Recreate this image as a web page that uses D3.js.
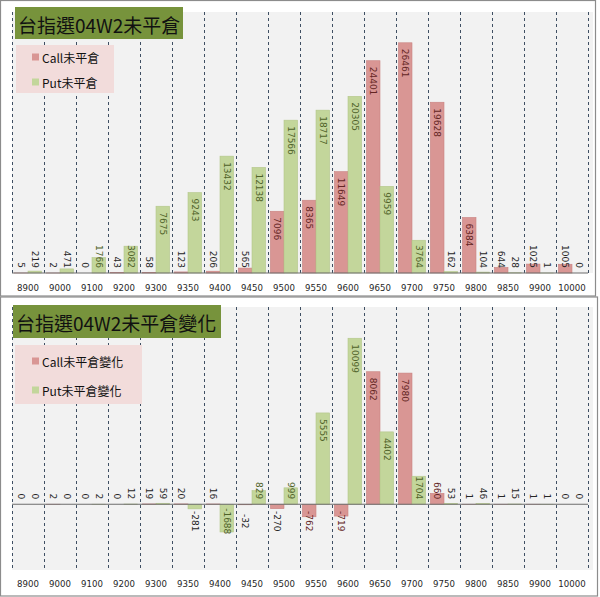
<!DOCTYPE html>
<html>
<head>
<meta charset="utf-8">
<script src="https://cdn.jsdelivr.net/npm/d3@7"></script>
<style>
html,body{margin:0;padding:0;background:#fff;}
svg{display:block;}
</style>
</head>
<body>
<svg id="chart" width="600" height="597"></svg>
<script>
const strikes = ["8900","9000","9100","9200","9300","9350","9400","9450","9500","9550","9600","9650","9700","9750","9800","9850","9900","10000"];
const callOI  = [5,2,0,43,58,123,206,565,7096,8365,11649,24401,26461,19628,6384,644,1025,1005];
const putOI   = [219,471,1766,3082,7675,9243,13432,12138,17566,18717,20305,9959,3764,162,104,28,1,0];
const callChg = [0,2,0,0,19,20,16,-32,-270,-762,-719,8062,7980,660,1,1,1,0];
const putChg  = [0,0,2,12,59,-281,-1688,829,999,5555,10099,4402,1704,53,46,15,1,0];

const panels = [
  {title:"台指選04W2未平倉", names:["Call未平倉","Put未平倉"], call:callOI, put:putOI,
   domain:[0,30000], top:12, bottom:273, axisY:273, frame:[0.5,0.5,595,295.5],
   titleBox:[15,7,168,32], legendBox:[16,45,98,48], legendY:[57,82], tickY:288},
  {title:"台指選04W2未平倉變化", names:["Call未平倉變化","Put未平倉變化"], call:callChg, put:putChg,
   domain:[-4000,12000], top:307, bottom:570, axisY:null, frame:[0.5,297,597,299],
   titleBox:[13,305,208,33], legendBox:[15,345,127,59], legendY:[361,390], tickY:584}
];

const svg = d3.select("#chart");
const cjk = "'Noto Sans CJK TC','Noto Sans CJK SC',sans-serif";
const numFont = "'DejaVu Sans',Verdana,sans-serif";
const callFill = "#d99694", putFill = "#c3d69b";
const callText = "#632523", putText = "#4f6228";

const x = d3.scaleBand().domain(strikes).range([12,588]).paddingInner(0).paddingOuter(0);
const x1 = d3.scaleBand().domain(["call","put"]).range([0,x.bandwidth()]).paddingInner(0).paddingOuter(0.18);

panels.forEach(p => {
  const g = svg.append("g");
  const y = d3.scaleLinear().domain(p.domain).range([p.bottom,p.top]);
  const zero = y(0);

  // frame
  g.append("rect").attr("x",p.frame[0]).attr("y",p.frame[1]).attr("width",p.frame[2]).attr("height",p.frame[3])
    .attr("fill","#fff").attr("stroke","#8c8c8c").attr("stroke-width",1.2);
  // plot bg
  g.append("rect").attr("x",12).attr("y",p.top).attr("width",581).attr("height",p.bottom-p.top).attr("fill","#f2f2f2");

  // dashed gridlines
  const edges = strikes.map(s => x(s)).concat([x(strikes[strikes.length-1]) + x.bandwidth()]);
  g.selectAll(".grid").data(edges).join("line")
    .attr("x1",d=>Math.round(d)+0.5).attr("x2",d=>Math.round(d)+0.5)
    .attr("y1",p.top).attr("y2",p.bottom)
    .attr("stroke","#3f4f63").attr("stroke-width",1).attr("stroke-dasharray","3,3");

  // bars
  const rows = strikes.map((s,i)=>({s, call:p.call[i], put:p.put[i]}));
  ["call","put"].forEach(k => {
    g.selectAll(".bar-"+k).data(rows).join("rect")
      .attr("x", d => x(d.s) + x1(k))
      .attr("width", x1.bandwidth())
      .attr("y", d => Math.min(y(d[k]), zero))
      .attr("height", d => Math.abs(y(d[k]) - zero))
      .attr("fill", k==="call"?callFill:putFill)
      .attr("stroke", k==="call"?"#c98280":"#b3c689").attr("stroke-width",0.6);
  });

  // zero / axis line
  g.append("line").attr("x1",12).attr("x2",588).attr("y1",zero).attr("y2",zero)
    .attr("stroke","#6d6d6d").attr("stroke-width",1.2);

  // labels
  ["call","put"].forEach(k => {
    rows.forEach(d => {
      const v = d[k];
      const cx = x(d.s) + x1(k) + x1.bandwidth()/2;
      const t = g.append("text").text(v)
        .attr("font-family",numFont).attr("font-size","9px")
        .attr("dominant-baseline","central");
      const len = t.node().getComputedTextLength();
      let start, inside;
      if (v >= 0) {
        const top = y(v);
        start = Math.min(top + 6, zero - 5 - len);
        inside = (zero - top) > len * 0.5;
      } else {
        start = zero + 17 - len/2;
        inside = (y(v) - zero) > len * 0.5;
      }
      t.attr("transform",`translate(${cx},${start}) rotate(90)`)
       .attr("fill", inside ? (k==="call"?callText:putText) : "#262626");
    });
  });

  // tick labels
  g.selectAll(".tick").data(strikes).join("text")
    .attr("x", d => x(d) + x.bandwidth()/2).attr("y", p.tickY)
    .attr("text-anchor","middle").attr("dominant-baseline","central")
    .attr("font-family",numFont).attr("font-size","8.6px").attr("fill","#262626")
    .text(d=>d);

  // title
  const tb = p.titleBox;
  g.append("rect").attr("x",tb[0]).attr("y",tb[1]).attr("width",tb[2]).attr("height",tb[3]).attr("fill","#77933c");
  g.append("text").attr("x",tb[0]+3).attr("y",tb[1]+tb[3]/2+1)
    .attr("dominant-baseline","central").attr("font-family",cjk).attr("font-size","19px").attr("fill","#111")
    .text(p.title);

  // legend
  const lb = p.legendBox;
  g.append("rect").attr("x",lb[0]).attr("y",lb[1]).attr("width",lb[2]).attr("height",lb[3]).attr("fill","#f2dcdb");
  [callFill,putFill].forEach((c,i)=>{
    g.append("rect").attr("x",32).attr("y",p.legendY[i]-3.5).attr("width",7).attr("height",7).attr("fill",c);
    g.append("text").attr("x",42).attr("y",p.legendY[i])
      .attr("dominant-baseline","central").attr("font-family",cjk).attr("font-size","12px").attr("fill","#111")
      .text(p.names[i]);
  });
});
</script>
</body>
</html>
